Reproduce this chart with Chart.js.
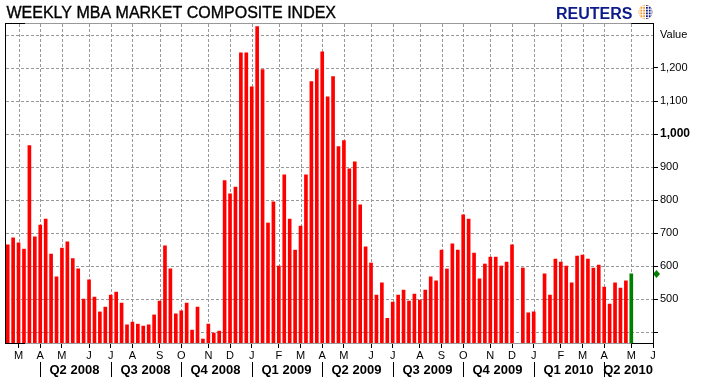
<!DOCTYPE html>
<html>
<head>
<meta charset="utf-8">
<script src="https://cdn.jsdelivr.net/npm/chart.js@4.4.1/dist/chart.umd.min.js"></script>
<style>
  body { margin: 0; background: #fff; }
  canvas { display: block; }
</style>
</head>
<body>
<canvas id="myChart" width="708" height="380"></canvas>
<script>
// weekly index, one value per survey week starting Feb 22 2008 (null = no print)
const weekValues = [
  665, 686, 671, 652, 965, 689, 725, 743, 637, 568,
  655, 674, 623, 592, 501, 559, 507, 462, 477, 513,
  522, 489, 423, 431, 425, 419, 423, 453, 495, 662,
  592, 456, 465, 489, 407, 477, 380, 425, 398, 404,
  859, 819, 840, 1246, 1246, 1143, 1325, 1195, 731, 795,
  601, 877, 743, 649, 722, 877, 1159, 1195, 1249, 1113,
  1174, 962, 980, 895, 916, 786, 659, 610, 513, 550,
  443, 492, 513, 528, 495, 516, 498, 528, 568, 556,
  649, 592, 668, 649, 756, 743, 640, 562, 607, 628,
  628, 601, 613, 665, null, 595, 459, 462, null, 577,
  513, 622, 613, 601, 550, 631, 634, 622, 595, 604,
  537, 486, 550, 534, 556, 577
];

// first week of each month (week number) and its letter
const monthWeeks = [2, 6, 10, 15, 19, 23, 28, 32, 37, 41, 45, 50, 54, 58,
  62, 67, 71, 76, 80, 84, 89, 93, 97, 102, 106, 110, 115, 119];
const monthLabels = ['M', 'A', 'M', 'J', 'J', 'A', 'S', 'O', 'N', 'D', 'J', 'F', 'M', 'A',
  'M', 'J', 'J', 'A', 'S', 'O', 'N', 'D', 'J', 'F', 'M', 'A', 'M', 'J'];

const quarterWeeks = [6, 19, 32, 45, 58, 71, 84, 97, 110];
const quarterLabels = ['Q2 2008', 'Q3 2008', 'Q4 2008', 'Q1 2009', 'Q2 2009',
  'Q3 2009', 'Q4 2009', 'Q1 2010', 'Q2 2010'];

const yTicks = [400, 500, 600, 700, 800, 900, 1000, 1100, 1200, 1300];

const FONT = '"Liberation Sans", Arial, sans-serif';
const lastIndex = weekValues.length - 1;

// dashed grid, drawn under the bars (dashes as 1px rects)
const gridPlugin = {
  id: 'dashGrid',
  beforeDatasetsDraw(chart) {
    const ctx = chart.ctx;
    const a = chart.chartArea;
    const xs = chart.scales.x;
    const ys = chart.scales.y;
    ctx.save();
    ctx.fillStyle = '#999';
    yTicks.forEach(v => {
      const py = Math.round(ys.getPixelForValue(v));
      for (let x = a.left + 1; x < a.right; x += 5) {
        ctx.fillRect(x, py, Math.min(3, a.right - x), 1);
      }
    });
    monthWeeks.forEach(w => {
      const px = Math.round(xs.getPixelForValue(w));
      if (px >= a.right) return;
      for (let y = a.top + 1; y < a.bottom; y += 5) {
        ctx.fillRect(px, y, 1, Math.min(3, a.bottom - y));
      }
    });
    ctx.restore();
  }
};

const decorPlugin = {
  id: 'decor',
  afterDraw(chart) {
    const ctx = chart.ctx;
    const a = chart.chartArea;
    const xs = chart.scales.x;
    const ys = chart.scales.y;
    ctx.save();

    // frame
    ctx.lineWidth = 1;
    ctx.strokeStyle = '#999';
    ctx.beginPath();
    ctx.moveTo(a.left, a.top + 0.5); ctx.lineTo(a.right, a.top + 0.5);
    ctx.moveTo(a.left, a.bottom + 0.5); ctx.lineTo(a.right, a.bottom + 0.5);
    ctx.stroke();

    // last value marker
    const my = ys.getPixelForValue(weekValues[lastIndex]);
    const mx = a.right + 3.5;
    ctx.fillStyle = '#008000';
    ctx.beginPath();
    ctx.moveTo(mx, my - 4); ctx.lineTo(mx + 3.5, my); ctx.lineTo(mx, my + 4); ctx.lineTo(mx - 3.5, my);
    ctx.closePath();
    ctx.fill();

    ctx.strokeStyle = '#000';
    const lastX = xs.getPixelForValue(lastIndex);
    ctx.beginPath();
    ctx.moveTo(a.left + 0.5, a.top); ctx.lineTo(a.left + 0.5, a.bottom + 1);
    ctx.moveTo(a.right + 0.5, a.top); ctx.lineTo(a.right + 0.5, a.bottom + 1);
    ctx.moveTo(a.left, a.top + 0.5); ctx.lineTo(a.left + 20, a.top + 0.5);
    ctx.moveTo(a.left, a.bottom + 0.5); ctx.lineTo(a.left + 20, a.bottom + 0.5);
    ctx.moveTo(lastX, a.top + 0.5); ctx.lineTo(a.right, a.top + 0.5);
    ctx.moveTo(lastX, a.bottom + 0.5); ctx.lineTo(a.right, a.bottom + 0.5);
    ctx.stroke();

    // quarter row
    ctx.font = 'bold 13px ' + FONT;
    ctx.fillStyle = '#000';
    ctx.textBaseline = 'alphabetic';
    quarterWeeks.forEach((w, i) => {
      const px = Math.round(xs.getPixelForValue(w)) + 0.5;
      ctx.beginPath();
      ctx.moveTo(px, 362); ctx.lineTo(px, 377);
      ctx.stroke();
      const tw = ctx.measureText(quarterLabels[i]).width;
      const tx = Math.min(px + 9, a.right - tw);
      ctx.fillText(quarterLabels[i], tx, 374);
    });

    // title
    ctx.font = '16px ' + FONT;
    ctx.fillText('WEEKLY MBA MARKET COMPOSITE INDEX', 6.5, 17.5);
    ctx.lineWidth = 0.35;
    ctx.strokeStyle = '#000';
    ctx.strokeText('WEEKLY MBA MARKET COMPOSITE INDEX', 6.5, 17.5);

    // logo
    ctx.font = 'bold 16px ' + FONT;
    ctx.fillStyle = '#0c1a8a';
    ctx.fillText('REUTERS', 556, 18.5);
    const gx = 645.5, gy = 12, gr = 7;
    ctx.beginPath(); ctx.arc(gx, gy, gr, 0, Math.PI * 2); ctx.fillStyle = '#f39a2a'; ctx.fill();
    ctx.save();
    ctx.beginPath(); ctx.arc(gx, gy, gr, 0, Math.PI * 2); ctx.clip();
    ctx.fillStyle = '#0c1a8a';
    ctx.fillRect(gx, gy - gr, gr, gr * 2);
    ctx.strokeStyle = '#fff';
    ctx.lineWidth = 1;
    ctx.beginPath();
    for (let k = -2; k <= 2; k++) {
      ctx.moveTo(gx - gr, gy + k * 2.8); ctx.lineTo(gx + gr, gy + k * 2.8);
      ctx.moveTo(gx + k * 2.8, gy - gr); ctx.lineTo(gx + k * 2.8, gy + gr);
    }
    ctx.stroke();
    ctx.restore();

    ctx.restore();
  }
};

const ctx = document.getElementById('myChart').getContext('2d');
const chart = new Chart(ctx, {
  type: 'bar',
  data: {
    datasets: [{
      label: 'Value',
      data: weekValues.map((v, i) => ({ x: i, y: v })),
      backgroundColor: (c) => c.dataIndex === lastIndex ? '#008000' : '#ff0000',
      barThickness: 3,
      borderWidth: 0
    }]
  },
  options: {
    responsive: false,
    animation: false,
    devicePixelRatio: 1,
    layout: { padding: { top: 23, left: 5, right: 0, bottom: 0 } },
    plugins: {
      legend: { display: false },
      title: { display: false },
      tooltip: { enabled: false }
    },
    scales: {
      x: {
        type: 'linear',
        offset: false,
        min: -0.5,
        max: 119,
        afterBuildTicks: (scale) => { scale.ticks = monthWeeks.map(v => ({ value: v })); },
        afterFit: (scale) => { scale.height = 37; },
        grid: { offset: false, drawOnChartArea: false, tickColor: '#000', tickLength: 5 },
        border: { display: false },
        ticks: {
          autoSkip: false,
          maxRotation: 0,
          padding: 1,
          color: '#000',
          font: { family: FONT, size: 11 },
          callback: (value, index) => monthLabels[index]
        }
      },
      y: {
        position: 'right',
        min: 368,
        max: 1336,
        afterBuildTicks: (scale) => { scale.ticks = yTicks.map(v => ({ value: v })); },
        afterFit: (scale) => { scale.width = 55; },
        grid: {
          drawOnChartArea: false,
          tickLength: 5,
          tickColor: (c) => (c.tick && c.tick.value === 1300) ? 'rgba(0,0,0,0)' : '#000'
        },
        border: { display: false },
        ticks: {
          padding: 2,
          color: '#000',
          font: (c) => (c.tick && c.tick.value === 1000)
            ? { family: FONT, size: 12, weight: 'bold' }
            : { family: FONT, size: 11 },
          callback: (value) => {
            if (value === 1300) return 'Value';
            if (value === 400) return '';
            return value.toLocaleString('en-US');
          }
        }
      }
    }
  },
  plugins: [gridPlugin, decorPlugin]
});
</script>
</body>
</html>
